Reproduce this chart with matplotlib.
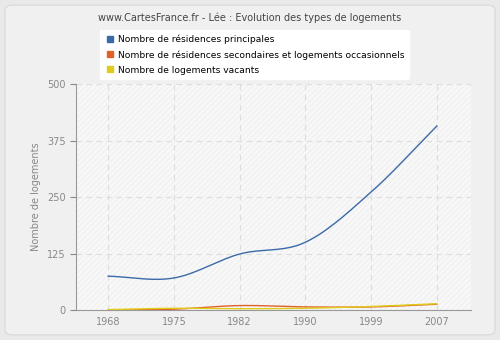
import matplotlib
matplotlib.use('Agg')
import matplotlib.pyplot as plt
from matplotlib.patches import FancyBboxPatch
import numpy as np

years = ['1968', '1975', '1982', '1990', '1999', '2007']
principales = [75, 71, 124, 150, 261, 407]
secondaires = [0, 2, 10, 7, 7, 13]
vacants = [1, 4, 3, 4, 8, 14]

series = [
    ('Nombre de résidences principales', principales, '#3a6aa8'),
    ('Nombre de résidences secondaires et logements occasionnels', secondaires, '#e0622a'),
    ('Nombre de logements vacants', vacants, '#e0cc1a'),
]


def smooth(y, n=30):
    """Catmull-Rom style cubic through the points."""
    y = np.asarray(y, float)
    x = np.arange(len(y), dtype=float)
    m = np.gradient(y)
    xs, ys = [], []
    for i in range(len(y) - 1):
        t = np.linspace(0, 1, n)
        h00 = 2 * t**3 - 3 * t**2 + 1
        h10 = t**3 - 2 * t**2 + t
        h01 = -2 * t**3 + 3 * t**2
        h11 = t**3 - t**2
        xs.append(x[i] + t)
        ys.append(h00 * y[i] + h10 * m[i] + h01 * y[i + 1] + h11 * m[i + 1])
    return np.concatenate(xs), np.concatenate(ys)


fig = plt.figure(figsize=(5, 3.4), dpi=100)
fig.patch.set_facecolor('#e9e9e9')
fig.patches.append(FancyBboxPatch((0.01, 0.015), 0.98, 0.97, boxstyle='round,pad=0,rounding_size=0.015',
                                  transform=fig.transFigure, facecolor='#f0f0f0',
                                  edgecolor='#d8d8d8', linewidth=0.8, zorder=-10))

ax = fig.add_axes([0.152, 0.088, 0.79, 0.665])
ax.set_facecolor('#f8f8f8')
ax.add_patch(plt.Rectangle((0, 0), 1, 1, transform=ax.transAxes, fill=False,
                           hatch='//////', edgecolor='#f1f1f1', linewidth=0, zorder=0))

x = np.arange(len(years))
for label, vals, color in series:
    xs, ys = smooth(vals)
    ax.plot(xs, ys, color=color, linewidth=1.0, label=label, zorder=3)

ax.set_xlim(-0.49, len(years) - 1 + 0.52)
ax.set_ylim(0, 500)
ax.set_xticks(x)
ax.set_xticklabels(years)
ax.set_yticks([0, 125, 250, 375, 500])
ax.grid(True, color='#dddddd', linestyle=(0, (5, 4)), linewidth=0.8)
ax.set_axisbelow(True)
for s in ['top', 'right']:
    ax.spines[s].set_visible(False)
for s in ['left', 'bottom']:
    ax.spines[s].set_color('#999999')
ax.tick_params(colors='#888888', labelsize=7, length=4, width=0.8)
ax.tick_params(axis='x', length=0, pad=5)
ax.set_ylabel('Nombre de logements', color='#888888', fontsize=7)

fig.text(0.5, 0.947, 'www.CartesFrance.fr - Lée : Evolution des types de logements',
         ha='center', va='center', fontsize=7, color='#444444')

handles = [plt.Line2D([], [], marker='s', linestyle='none', markersize=4.2,
                      color=c) for _, _, c in series]
leg = fig.legend(handles, [s[0] for s in series], loc='upper left',
                 bbox_to_anchor=(0.19, 0.925), fontsize=6.6, frameon=True,
                 handletextpad=0.3, labelspacing=0.65, borderpad=0.5,
                 handlelength=1.2, fancybox=True)
leg.get_frame().set_edgecolor('white')
leg.get_frame().set_facecolor('white')
leg.get_frame().set_alpha(1)

fig.savefig('out.png', dpi=100, facecolor=fig.get_facecolor())
